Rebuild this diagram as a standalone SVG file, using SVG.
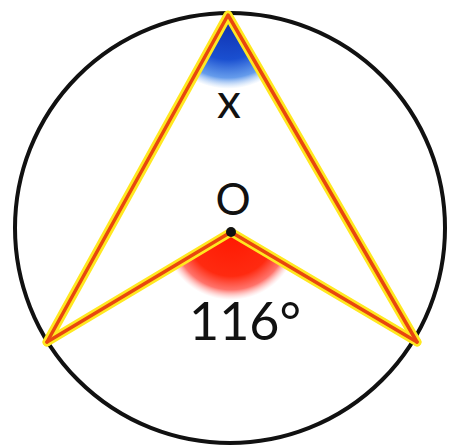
<svg xmlns="http://www.w3.org/2000/svg" width="452" height="448" viewBox="0 0 452 448">
<defs>
<radialGradient id="gBlue" gradientUnits="userSpaceOnUse" cx="228" cy="15" r="74">
<stop offset="0" stop-color="#0d2aa8"/>
<stop offset="0.6" stop-color="#1a4fd0"/>
<stop offset="0.85" stop-color="#4a8ae8" stop-opacity="0.85"/>
<stop offset="1" stop-color="#9cc4f4" stop-opacity="0"/>
</radialGradient>
<radialGradient id="gRed" gradientUnits="userSpaceOnUse" cx="231" cy="232" r="68">
<stop offset="0" stop-color="#ff1800"/>
<stop offset="0.65" stop-color="#ff2a10"/>
<stop offset="0.85" stop-color="#ff5a50" stop-opacity="0.85"/>
<stop offset="1" stop-color="#ffb0b0" stop-opacity="0"/>
</radialGradient>
</defs>
<style>
.circ{fill:none;stroke:#111;stroke-width:4}
.glow{fill:none;stroke:#ffe820;stroke-width:9;stroke-linecap:round;stroke-linejoin:round}
.core{fill:none;stroke:#e8460f;stroke-width:3.5;stroke-linecap:round;stroke-linejoin:round}
.lbl{font-family:Lato,"Open Sans",sans-serif;font-weight:400;fill:#111}
</style>
<circle class="circ" cx="230" cy="228" r="215"/>
<g id="angle-x">
<path d="M228 15 L192.4 79.2 A74 74 0 0 0 265 79.1 Z" fill="url(#gBlue)"/>
</g>
<g id="angle-116">
<path d="M231 232 L172.7 266.9 A68 68 0 0 0 289.5 266.6 Z" fill="url(#gRed)"/>
</g>
<g id="connectors">
<path class="glow" d="M47 342 L228 15 L417 342"/>
<path class="glow" d="M47 342 L231 232 L417 342"/>
<path class="core" d="M47 342 L228 15 L417 342"/>
<path class="core" d="M47 342 L231 232 L417 342"/>
</g>
<g id="center-O">
<circle cx="231" cy="232" r="5" fill="#111"/>
<text class="lbl" x="233" y="215" font-size="44" text-anchor="middle">O</text>
</g>
<g id="label-x">
<text class="lbl" x="229" y="118" font-size="48" text-anchor="middle">x</text>
</g>
<g id="label-116">
<text class="lbl" x="189" y="340" font-size="52">116°</text>
</g>
</svg>
